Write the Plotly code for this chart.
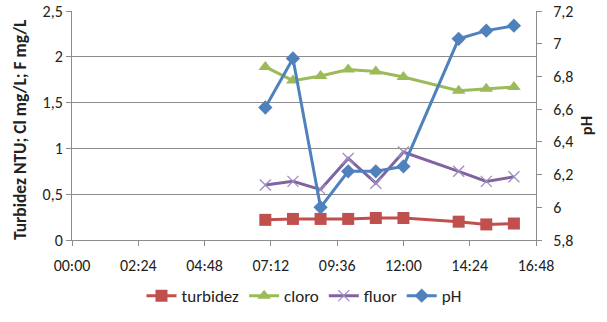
import plotly.graph_objects as go

hours = [7, 8, 9, 10, 11, 12, 14, 15, 16]
turbidez = [0.22, 0.23, 0.23, 0.23, 0.24, 0.24, 0.20, 0.17, 0.18]
cloro = [1.89, 1.74, 1.79, 1.86, 1.84, 1.78, 1.63, 1.65, 1.67]
fluor = [0.60, 0.64, 0.55, 0.89, 0.62, 0.96, 0.75, 0.64, 0.69]
ph = [6.61, 6.91, 6.00, 6.22, 6.22, 6.25, 7.03, 7.08, 7.11]

x_tickvals = [0, 2.4, 4.8, 7.2, 9.6, 12.0, 14.4, 16.8]
x_ticktext = ["00:00", "02:24", "04:48", "07:12", "09:36", "12:00", "14:24", "16:48"]
left_title = "Turbidez NTU; Cl mg/L; F mg/L"
right_title = "pH"

FONT = "Calibri, Carlito, 'Liberation Sans', Arial, sans-serif"
GRID = "#8c8c8c"

fig = go.Figure()
fig.add_trace(go.Scatter(x=hours, y=turbidez, name="turbidez", mode="lines+markers",
                         line=dict(color="#C0504D", width=3),
                         marker=dict(symbol="square", size=12, color="#C0504D")))
fig.add_trace(go.Scatter(x=hours, y=cloro, name="cloro", mode="lines+markers",
                         line=dict(color="#9BBB59", width=3),
                         marker=dict(symbol="triangle-up", size=12, color="#9BBB59")))
fig.add_trace(go.Scatter(x=hours, y=fluor, name="fluor", mode="lines+markers",
                         line=dict(color="#8064A2", width=3),
                         marker=dict(symbol="x-thin", size=11, color="#a08cc0",
                                     line=dict(color="#a08cc0", width=1.3))))
fig.add_trace(go.Scatter(x=hours, y=ph, name="pH", mode="lines+markers", yaxis="y2",
                         line=dict(color="#4F81BD", width=3),
                         marker=dict(symbol="diamond", size=11, color="#4F81BD")))

fig.update_layout(
    width=607, height=322,
    margin=dict(l=72, r=71, t=11, b=82, autoexpand=False),
    paper_bgcolor="white", plot_bgcolor="white",
    separators=",.",
    font=dict(family=FONT, size=16, color="#222"),
    showlegend=True,
    legend=dict(orientation="h", x=0.5, xanchor="center", y=-0.245, yanchor="middle",
                font=dict(size=17), itemwidth=30, tracegroupgap=0),
    xaxis=dict(range=[0, 16.8], tickvals=x_tickvals, ticktext=x_ticktext,
               showgrid=False, zeroline=False, showline=True, linecolor=GRID, linewidth=1,
               ticks="outside", ticklen=5, tickcolor=GRID, automargin=False,
               ticklabelstandoff=6),
    yaxis=dict(range=[0, 2.5], dtick=0.5, showgrid=True, gridcolor=GRID, gridwidth=1,
               zeroline=False, showline=True, linecolor=GRID, ticks="outside", ticklen=5,
               tickcolor=GRID, automargin=False),
    yaxis2=dict(range=[5.8, 7.2], dtick=0.2, overlaying="y", side="right", showgrid=False,
                zeroline=False, showline=True, linecolor=GRID, ticks="outside", ticklen=5,
                tickcolor=GRID, automargin=False, ticklabelstandoff=8,
                title=dict(text="<b>" + right_title + "</b>", font=dict(size=16.5), standoff=8)),
    annotations=[dict(text="<b>" + left_title + "</b>", xref="paper", yref="paper",
                      x=-0.112, y=0.48, xanchor="center", yanchor="middle",
                      textangle=-90, showarrow=False, font=dict(size=17.5, color="#222"))],
)

fig.write_html("out.html", config={"displayModeBar": False},
               post_script="document.body.style.margin='0';document.body.style.overflow='hidden';")
